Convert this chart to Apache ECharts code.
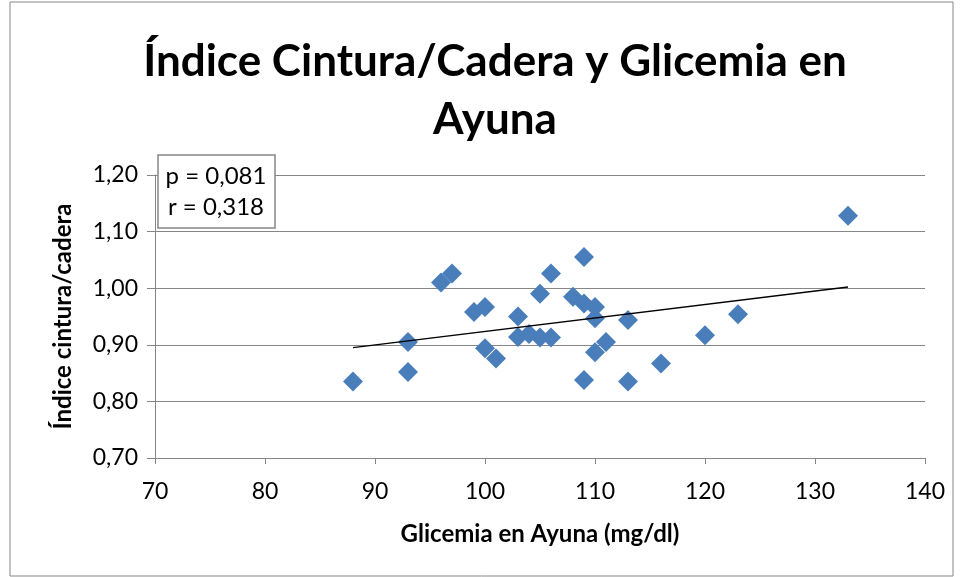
<!DOCTYPE html>
<html><head><meta charset="utf-8">
<script src="https://cdn.jsdelivr.net/npm/echarts@6/dist/echarts.min.js"></script>
<style>html,body{margin:0;padding:0;background:#fff}#c{width:961px;height:577px}</style>
</head><body><div id="c"></div>
<script>
const glicemia = [88,93,93,96,97,99,100,100,101,103,103,104,105,105,106,106,108,109,109,109,110,110,110,111,113,113,116,120,123,133];
const indice   = [0.835,0.905,0.852,1.010,1.026,0.958,0.967,0.894,0.876,0.950,0.914,0.919,0.913,0.990,0.913,1.026,0.985,1.055,0.973,0.838,0.967,0.947,0.887,0.905,0.944,0.835,0.867,0.917,0.954,1.128];
const trendX = [88,133];
const trendY = [0.895,1.002];
const xTicks = [70,80,90,100,110,120,130,140];
const yTicks = [0.70,0.80,0.90,1.00,1.10,1.20];
const titleText = 'Índice Cintura/Cadera y Glicemia en\nAyuna';
const statsText = 'p = 0,081\nr = 0,318';

const font = 'Lato, "Open Sans", "Liberation Sans", sans-serif';
const chart = echarts.init(document.getElementById('c'));
chart.setOption({
  animation:false,
  backgroundColor:'#fff',
  title:{text:titleText,left:490,textAlign:'center',top:28,
    textStyle:{fontFamily:font,fontSize:44,fontWeight:'bold',color:'#000',lineHeight:58}},
  grid:{left:155,right:36,top:175,bottom:119},
  xAxis:{type:'value',min:70,max:140,interval:10,
    axisLine:{show:true,lineStyle:{color:'#868686'}},
    axisTick:{show:true,length:6,lineStyle:{color:'#868686'}},
    splitLine:{show:false},
    axisLabel:{fontFamily:font,fontSize:23,color:'#000',margin:22,formatter:v=>String(v)},
    name:'Glicemia en Ayuna (mg/dl)',nameLocation:'middle',nameGap:64,
    nameTextStyle:{fontFamily:font,fontSize:24,fontWeight:'bold',color:'#000'}},
  yAxis:{type:'value',min:0.7,max:1.2,interval:0.1,
    axisLine:{show:true,lineStyle:{color:'#868686'}},
    axisTick:{show:true,length:8,lineStyle:{color:'#868686'}},
    splitLine:{show:true,lineStyle:{color:'#868686',width:1}},
    axisLabel:{fontFamily:font,fontSize:23,color:'#000',margin:17,formatter:v=>v.toFixed(2).replace('.',',')},
    name:'Índice cintura/cadera',nameLocation:'middle',nameGap:80,
    nameTextStyle:{fontFamily:font,fontSize:24,fontWeight:'bold',color:'#000'}},
  series:[
    {type:'scatter',symbol:'diamond',symbolSize:20,
      itemStyle:{color:'#4a7ebb',opacity:1},
      data:glicemia.map((g,i)=>[g,indice[i]]),z:3},
    {type:'line',symbol:'none',lineStyle:{color:'#000',width:1.5},
      data:trendX.map((x,i)=>[x,trendY[i]]),z:4}
  ],
  graphic:[
    {type:'rect',shape:{x:10,y:2,width:943,height:574},style:{fill:'none',stroke:'#868686',lineWidth:1},silent:true,z:-1},
    {type:'rect',shape:{x:158,y:155,width:117,height:73},style:{fill:'#fff',stroke:'#868686',lineWidth:1.5},z:10},
    {type:'text',x:216,y:192,style:{text:statsText,fontFamily:font,fontSize:24,fill:'#000',align:'center',verticalAlign:'middle',lineHeight:31},z:11}
  ]
});
</script></body></html>
